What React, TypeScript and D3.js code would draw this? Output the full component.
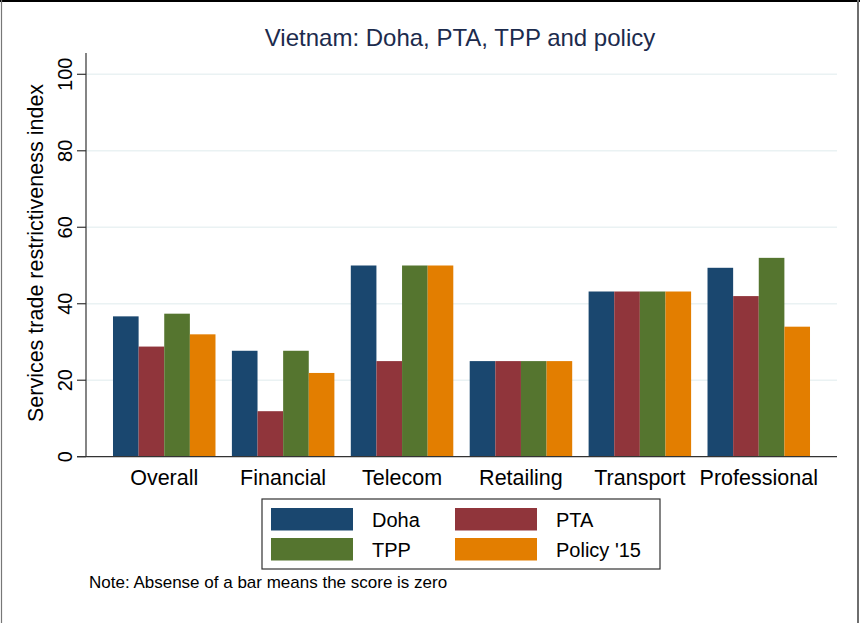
import { useRef, useEffect } from 'react'
import * as d3 from 'd3'

const categories = ['Overall', 'Financial', 'Telecom', 'Retailing', 'Transport', 'Professional']
const seriesNames = ['Doha', 'PTA', 'TPP', "Policy '15"]
const doha = [36.7, 27.7, 50, 25, 43.2, 49.4]
const pta = [28.8, 11.9, 25, 25, 43.2, 42.0]
const tpp = [37.4, 27.7, 50, 25, 43.2, 52.0]
const policy = [32.0, 21.9, 50, 25, 43.2, 34.0]
const yTicks = [0, 20, 40, 60, 80, 100]
const colors = ['#1a476f', '#90353b', '#55752f', '#e37e00']

const W = 860
const H = 623
const FONT = 'Liberation Sans, Arial, Helvetica, sans-serif'

const App = () => {
  const ref = useRef<SVGSVGElement>(null)

  useEffect(() => {
    const svg = d3.select(ref.current)
    svg.selectAll('*').remove()

    const left = 86
    const right = 837
    const y = d3.scaleLinear().domain([0, 100]).range([456.7, 74.3])

    const x0 = d3.scaleBand<string>()
      .domain(categories)
      .range([left, right])
      .paddingInner(0.138)
      .paddingOuter(0.227)
    const x1 = d3.scaleBand<string>()
      .domain(seriesNames)
      .range([0, x0.bandwidth()])

    svg.append('rect').attr('width', W).attr('height', H).attr('fill', '#fff')

    // frame
    svg.append('line').attr('x1', 0).attr('x2', W).attr('y1', 1).attr('y2', 1)
      .attr('stroke', '#000').attr('stroke-width', 2)
    svg.append('line').attr('x1', 1.5).attr('x2', 1.5).attr('y1', 0).attr('y2', H)
      .attr('stroke', '#777').attr('stroke-width', 1.2)
    svg.append('line').attr('x1', 858).attr('x2', 858).attr('y1', 0).attr('y2', H)
      .attr('stroke', '#6e6e6e').attr('stroke-width', 2)

    // title
    svg.append('text')
      .attr('x', 460).attr('y', 46)
      .attr('text-anchor', 'middle')
      .attr('font-family', FONT).attr('font-size', 24)
      .attr('fill', '#1c2b4d')
      .text('Vietnam: Doha, PTA, TPP and policy')

    // grid
    svg.append('g').selectAll('line')
      .data(yTicks.filter((t) => t > 0))
      .enter().append('line')
      .attr('x1', left).attr('x2', right)
      .attr('y1', (d) => y(d)).attr('y2', (d) => y(d))
      .attr('stroke', '#eaf2f3').attr('stroke-width', 1.5)

    // bars
    const rows = [doha, pta, tpp, policy]
    const g = svg.append('g')
    categories.forEach((c, i) => {
      seriesNames.forEach((s, j) => {
        const v = rows[j][i]
        g.append('rect')
          .attr('x', (x0(c) ?? 0) + (x1(s) ?? 0))
          .attr('y', y(v))
          .attr('width', x1.bandwidth())
          .attr('height', y(0) - y(v))
          .attr('fill', colors[j])
      })
    })

    // y axis
    svg.append('line').attr('x1', left).attr('x2', left).attr('y1', 53).attr('y2', y(0))
      .attr('stroke', '#333').attr('stroke-width', 1.2)
    svg.append('line').attr('x1', 77).attr('x2', right).attr('y1', y(0)).attr('y2', y(0))
      .attr('stroke', '#333').attr('stroke-width', 1.2)
    svg.append('g').selectAll('line')
      .data(yTicks)
      .enter().append('line')
      .attr('x1', 77).attr('x2', left)
      .attr('y1', (d) => y(d)).attr('y2', (d) => y(d))
      .attr('stroke', '#333').attr('stroke-width', 1.2)
    svg.append('g').selectAll('text')
      .data(yTicks)
      .enter().append('text')
      .attr('transform', (d) => `translate(72,${y(d)}) rotate(-90)`)
      .attr('text-anchor', 'middle')
      .attr('font-family', FONT).attr('font-size', 20)
      .attr('fill', '#000')
      .text((d) => d)

    svg.append('text')
      .attr('transform', 'translate(43,253) rotate(-90)')
      .attr('text-anchor', 'middle')
      .attr('font-family', FONT).attr('font-size', 21.5)
      .attr('fill', '#000')
      .text('Services trade restrictiveness index')

    // category labels
    svg.append('g').selectAll('text')
      .data(categories)
      .enter().append('text')
      .attr('x', (d) => (x0(d) ?? 0) + x0.bandwidth() / 2)
      .attr('y', 485)
      .attr('text-anchor', 'middle')
      .attr('font-family', FONT).attr('font-size', 21.5)
      .attr('fill', '#000')
      .text((d) => d)

    // legend
    const lg = svg.append('g')
    lg.append('rect')
      .attr('x', 262).attr('y', 499).attr('width', 398).attr('height', 70)
      .attr('fill', '#fff').attr('stroke', '#333').attr('stroke-width', 1.2)
    seriesNames.forEach((s, j) => {
      const col = j % 2
      const row = Math.floor(j / 2)
      lg.append('rect')
        .attr('x', col === 0 ? 271 : 455)
        .attr('y', row === 0 ? 508 : 538)
        .attr('width', 82).attr('height', 22.5)
        .attr('fill', colors[j])
      lg.append('text')
        .attr('x', col === 0 ? 372 : 556)
        .attr('y', row === 0 ? 526.5 : 556.5)
        .attr('font-family', FONT).attr('font-size', 20)
        .attr('fill', '#000')
        .text(s)
    })

    svg.append('text')
      .attr('x', 89).attr('y', 588)
      .attr('font-family', FONT).attr('font-size', 17)
      .attr('fill', '#000')
      .text('Note: Absense of a bar means the score is zero')
  }, [])

  return (
    <svg ref={ref} width={W} height={H} style={{ position: 'absolute', left: 0, top: 0 }} />
  )
}

export default App
